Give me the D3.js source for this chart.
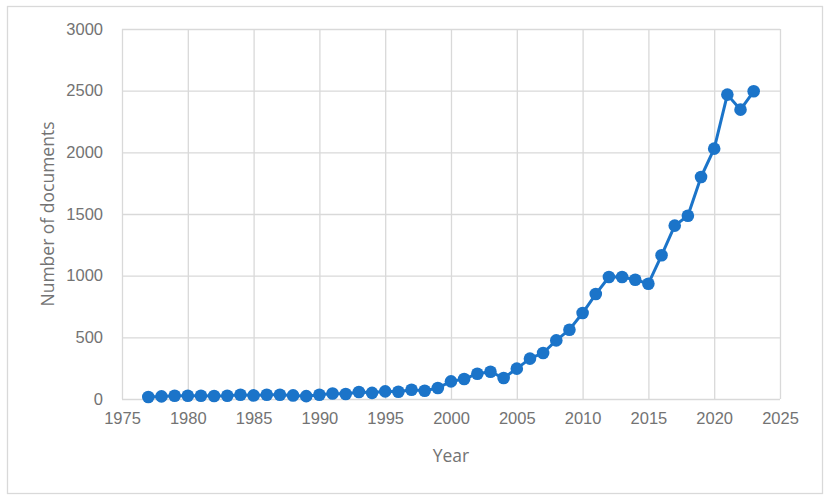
<!DOCTYPE html>
<html>
<head>
<meta charset="utf-8">
<script src="https://cdn.jsdelivr.net/npm/d3@7"></script>
<style>
  body { margin: 0; background: #fff; }
  svg { display: block; font-family: "Open Sans", sans-serif; }
  .tick text { fill: #737373; font-size: 16.5px; }
  .grid line { stroke: #d9d9d9; stroke-width: 1.3; }
  .title { fill: #737373; font-size: 17.5px; }
</style>
</head>
<body>
<svg id="chart" width="831" height="500"></svg>
<script>
const years = d3.range(1977, 2024)
const documents = [
  16, 21, 26, 26, 26, 24, 26, 35, 29, 35,
  35, 29, 23, 35, 45, 40, 57, 50, 62, 59,
  75, 67, 89, 143, 162, 205, 221, 170, 246, 327,
  373, 475, 562, 697, 851, 989, 989, 967, 935, 1165,
  1406, 1486, 1800, 2030, 2468, 2346, 2495
]
const xTicks = d3.range(1975, 2026, 5)
const yTicks = d3.range(0, 3001, 500)

const data = years.map((y, i) => ({ year: y, value: documents[i] }))

const svg = d3.select('#chart')

// outer frame
svg.append('rect')
  .attr('x', 7.5).attr('y', 6.5)
  .attr('width', 815).attr('height', 487)
  .attr('fill', 'none')
  .attr('stroke', '#d9d9d9')
  .attr('stroke-width', 1.3)

const margin = { left: 122, right: 51, top: 29, bottom: 101 }
const x = d3.scaleLinear().domain([1975, 2025]).range([margin.left, 831 - margin.right])
const y = d3.scaleLinear().domain([0, 3000]).range([500 - margin.bottom, margin.top])

// vertical gridlines + x labels
const xAxis = svg.append('g')
  .attr('class', 'grid')
  .attr('transform', `translate(0,${y(0)})`)
  .call(d3.axisBottom(x).tickValues(xTicks).tickFormat(d3.format('d'))
    .tickSize(-(y(0) - y(3000))).tickPadding(13))
xAxis.select('.domain').remove()

// horizontal gridlines + y labels
const yAxis = svg.append('g')
  .attr('class', 'grid')
  .attr('transform', `translate(${x(1975)},0)`)
  .call(d3.axisLeft(y).tickValues(yTicks).tickFormat(d3.format('d'))
    .tickSize(-(x(2025) - x(1975))).tickPadding(19))
yAxis.select('.domain').remove()

// axis titles
svg.append('text')
  .attr('class', 'title')
  .attr('x', 451).attr('y', 462)
  .attr('text-anchor', 'middle')
  .text('Year')

svg.append('text')
  .attr('class', 'title')
  .attr('transform', 'translate(54,214) rotate(-90)')
  .attr('text-anchor', 'middle')
  .text('Number of documents')

const line = d3.line()
  .x(d => x(d.year))
  .y(d => y(d.value))

svg.append('path')
  .datum(data)
  .attr('d', line)
  .attr('fill', 'none')
  .attr('stroke', '#1b74c9')
  .attr('stroke-width', 3)
  .attr('stroke-linejoin', 'round')

svg.append('g')
  .selectAll('circle')
  .data(data)
  .enter()
  .append('circle')
  .attr('cx', d => x(d.year))
  .attr('cy', d => y(d.value))
  .attr('r', 6.3)
  .attr('fill', '#1b74c9')
</script>
</body>
</html>
